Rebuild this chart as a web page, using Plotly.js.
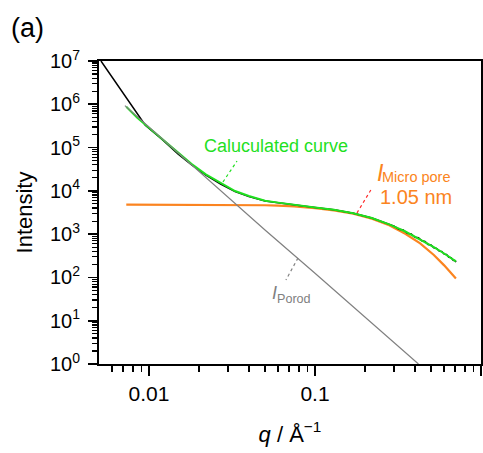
<!DOCTYPE html>
<html>
<head>
<meta charset="utf-8">
<script src="https://cdn.plot.ly/plotly-3.0.1.min.js"></script>
<style>html,body{margin:0;padding:0;background:#fff;}#chart{width:483px;height:453px;}</style>
</head>
<body>
<div id="chart"></div>
<script>
// ---- data ----
const qExp = [0.00514, 0.0095, 0.012, 0.015, 0.018, 0.022, 0.027, 0.033, 0.04, 0.05, 0.06, 0.075, 0.1, 0.13, 0.17, 0.22, 0.28, 0.30, 0.32, 0.34, 0.36, 0.38, 0.40, 0.42, 0.44, 0.46, 0.48, 0.50, 0.52, 0.54, 0.56, 0.58, 0.60, 0.62, 0.64, 0.66, 0.68, 0.70, 0.706];
const iExp = [1.0e7, 3.3e5, 1.55e5, 7.0e4, 4.05e4, 2.3e4, 1.43e4, 9600, 7400, 5850, 5300, 4700, 4120, 3640, 3050, 2350, 1690, 1530, 1300, 1250, 1040, 1010, 850, 830, 700, 680, 575, 565, 485, 470, 405, 400, 345, 338, 292, 287, 250, 244, 226];

const qCalc = [0.0073, 0.0085, 0.01, 0.012, 0.015, 0.018, 0.022, 0.027, 0.033, 0.04, 0.05, 0.06, 0.075, 0.1, 0.13, 0.17, 0.22, 0.28, 0.35, 0.43, 0.52, 0.6, 0.706];
const iCalc = [8.8e5, 4.9e5, 2.86e5, 1.57e5, 7.3e4, 4.2e4, 2.4e4, 1.5e4, 9900, 7600, 5900, 5350, 4720, 4130, 3650, 3050, 2350, 1680, 1150, 760, 500, 357, 234];

const qMicro = [0.0073, 0.01, 0.02, 0.03, 0.04, 0.05, 0.06, 0.075, 0.1, 0.13, 0.17, 0.22, 0.28, 0.35, 0.43, 0.52, 0.6, 0.706];
const iMicro = [4800, 4800, 4790, 4760, 4720, 4650, 4560, 4400, 4000, 3550, 2980, 2280, 1600, 1020, 610, 330, 190, 95];

const qPorod = [0.00716, 0.02, 0.05, 0.1, 0.2, 0.42];
const iPorod = [9.3e5, 2.75e4, 1250, 125, 12.4, 1.0];

const xTickVals = [0.01, 0.1, 1];
const xTickText = ['0.01', '0.1', '1'];
const yTickVals = [1, 10, 100, 1e3, 1e4, 1e5, 1e6, 1e7];
const yTickText = ['10<sup>0</sup>', '10<sup>1</sup>', '10<sup>2</sup>', '10<sup>3</sup>', '10<sup>4</sup>', '10<sup>5</sup>', '10<sup>6</sup>', '10<sup>7</sup>'];

// minor tick positions (2..9 within each decade)
const xMinor = [];
[0.001, 0.01, 0.1].forEach(d => { for (let k = 2; k <= 9; k++) { const v = k * d; if (v > 0.005 && v < 1) xMinor.push(v); } });
const yMinor = [];
for (let e = 0; e < 7; e++) { for (let k = 2; k <= 9; k++) yMinor.push(k * Math.pow(10, e)); }

const FONT = 'Arial, "Liberation Sans", sans-serif';
const GREEN = '#1fe01f';
const ORANGE = '#fb8420';
const GRAY = '#808080';

const traces = [
  {x: qMicro, y: iMicro, mode: 'lines', line: {color: ORANGE, width: 2.2}, hoverinfo: 'skip'},
  {x: qExp, y: iExp, mode: 'lines', line: {color: '#000000', width: 1.5}, hoverinfo: 'skip'},
  {x: qCalc, y: iCalc, mode: 'lines', line: {color: GREEN, width: 2}, hoverinfo: 'skip'},
  {x: qPorod, y: iPorod, mode: 'lines', line: {color: GRAY, width: 1.2}, hoverinfo: 'skip'},
  // dotted leader lines
  {x: [0.0279, 0.0339], y: [1.6e4, 4.9e4], mode: 'lines', line: {color: GREEN, width: 1.2, dash: 'dot'}, hoverinfo: 'skip'},
  {x: [0.179, 0.217], y: [3080, 1.05e4], mode: 'lines', line: {color: '#ff2a2a', width: 1.2, dash: 'dot'}, hoverinfo: 'skip'},
  {x: [0.079, 0.0668], y: [281, 87], mode: 'lines', line: {color: GRAY, width: 1.2, dash: 'dot'}, hoverinfo: 'skip'}
];

const layout = {
  width: 483, height: 453,
  margin: {l: 99, r: 2, t: 61, b: 89, pad: 0},
  paper_bgcolor: '#ffffff', plot_bgcolor: '#ffffff',
  showlegend: false,
  font: {family: FONT, color: '#000000'},
  xaxis: {
    type: 'log', range: [Math.log10(0.005), 0],
    tickmode: 'array', tickvals: xTickVals, ticktext: xTickText,
    ticks: 'outside', ticklen: 10, tickwidth: 1.6, tickcolor: '#000',
    showline: true, linewidth: 2, linecolor: '#000', mirror: true,
    showgrid: false, zeroline: false,
    tickfont: {family: FONT, size: 21, color: '#000'},
    minor: {tickmode: 'array', tickvals: xMinor, ticks: 'outside', ticklen: 6, tickwidth: 1.6, tickcolor: '#000', showgrid: false},
    title: {text: '<i>q</i> / Å<sup>−1</sup>', font: {family: FONT, size: 22, color: '#000'}, standoff: 22}
  },
  yaxis: {
    type: 'log', range: [0, 7],
    tickmode: 'array', tickvals: yTickVals, ticktext: yTickText,
    ticks: 'outside', ticklen: 9, tickwidth: 1.6, tickcolor: '#000',
    showline: true, linewidth: 2, linecolor: '#000', mirror: true,
    showgrid: false, zeroline: false,
    tickfont: {family: FONT, size: 20, color: '#000'},
    ticklabelstandoff: 4,
    minor: {tickmode: 'array', tickvals: yMinor, ticks: 'outside', ticklen: 5, tickwidth: 1.2, tickcolor: '#000', showgrid: false},
    title: {text: 'Intensity', font: {family: FONT, size: 22, color: '#000'}, standoff: 11}
  },
  annotations: [
    {xref: 'paper', yref: 'paper', x: 0.463, y: 0.719, xanchor: 'center', yanchor: 'middle', showarrow: false,
     text: 'Caluculated curve', font: {family: FONT, size: 18, color: GREEN}},
    {xref: 'paper', yref: 'paper', x: 0.722, y: 0.632, xanchor: 'left', yanchor: 'middle', showarrow: false,
     text: '<i>I</i>', font: {family: FONT, size: 23, color: ORANGE}},
    {xref: 'paper', yref: 'paper', x: 0.735, y: 0.617, xanchor: 'left', yanchor: 'middle', showarrow: false,
     text: 'Micro pore', font: {family: FONT, size: 14.5, color: ORANGE}},
    {xref: 'paper', yref: 'paper', x: 0.73, y: 0.551, xanchor: 'left', yanchor: 'middle', showarrow: false,
     text: '1.05 nm', font: {family: FONT, size: 20, color: ORANGE}},
    {xref: 'paper', yref: 'paper', x: 0.448, y: 0.23, xanchor: 'left', yanchor: 'middle', showarrow: false,
     text: '<i>I</i><sub>Porod</sub>', font: {family: FONT, size: 18, color: GRAY}},
    {xref: 'paper', yref: 'paper', x: -0.188, y: 1.109, xanchor: 'center', yanchor: 'middle', showarrow: false,
     text: '(a)', font: {family: FONT, size: 27, color: '#000'}}
  ]
};

Plotly.newPlot('chart', traces, layout, {displayModeBar: false, staticPlot: true});
</script>
</body>
</html>
